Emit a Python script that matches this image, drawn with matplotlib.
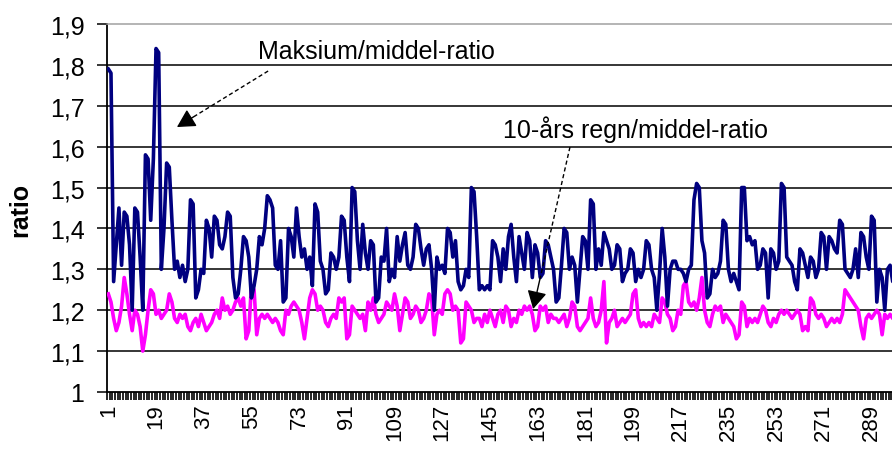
import matplotlib
matplotlib.use("Agg")
import matplotlib.pyplot as plt
import numpy as np
from matplotlib.ticker import FuncFormatter

# Maximum / mean ratio per station
max_ratio = [
    1.79, 1.78, 1.27, 1.36, 1.45, 1.31, 1.44, 1.43, 1.36, 1.20,
    1.45, 1.44, 1.33, 1.20, 1.58, 1.57, 1.42, 1.57, 1.84, 1.83,
    1.30, 1.40, 1.56, 1.55, 1.42, 1.30, 1.32, 1.28, 1.31, 1.27,
    1.30, 1.47, 1.46, 1.23, 1.25, 1.30, 1.29, 1.42, 1.40, 1.33,
    1.43, 1.42, 1.36, 1.35, 1.38, 1.44, 1.43, 1.28, 1.23, 1.24,
    1.30, 1.38, 1.37, 1.33, 1.23, 1.26, 1.30, 1.38, 1.36, 1.40,
    1.48, 1.47, 1.45, 1.31, 1.30, 1.37, 1.22, 1.23, 1.40, 1.38,
    1.33, 1.45, 1.38, 1.33, 1.35, 1.30, 1.33, 1.26, 1.46, 1.44,
    1.32, 1.30, 1.24, 1.25, 1.34, 1.33, 1.30, 1.33, 1.43, 1.42,
    1.33, 1.27, 1.50, 1.49, 1.37, 1.30, 1.41, 1.34, 1.30, 1.37,
    1.36, 1.22, 1.23, 1.33, 1.32, 1.40, 1.27, 1.30, 1.28, 1.38,
    1.32, 1.36, 1.39, 1.31, 1.30, 1.33, 1.41, 1.40, 1.35, 1.31,
    1.35, 1.36, 1.30, 1.20, 1.33, 1.30, 1.31, 1.29, 1.40, 1.39,
    1.33, 1.37, 1.27, 1.25, 1.26, 1.30, 1.28, 1.50, 1.49, 1.38,
    1.25, 1.26, 1.25, 1.26, 1.25, 1.37, 1.36, 1.33, 1.27, 1.35,
    1.30, 1.38, 1.41, 1.33, 1.27, 1.38, 1.34, 1.30, 1.39, 1.37,
    1.28, 1.36, 1.34, 1.28, 1.29, 1.37, 1.36, 1.33, 1.30, 1.22,
    1.23, 1.31, 1.40, 1.39, 1.30, 1.33, 1.31, 1.22, 1.30, 1.38,
    1.37, 1.30, 1.47, 1.46, 1.30, 1.35, 1.31, 1.39, 1.37, 1.35,
    1.30, 1.31, 1.36, 1.35, 1.27, 1.29, 1.30, 1.35, 1.34, 1.27,
    1.30, 1.28, 1.30, 1.37, 1.36, 1.30, 1.28, 1.20, 1.29, 1.40,
    1.33, 1.21, 1.30, 1.32, 1.32, 1.30, 1.30, 1.29, 1.27, 1.30,
    1.31, 1.47, 1.51, 1.50, 1.37, 1.34, 1.23, 1.24, 1.30, 1.28,
    1.29, 1.32, 1.42, 1.41, 1.30, 1.27, 1.29, 1.27, 1.25, 1.50,
    1.50, 1.37, 1.38, 1.36, 1.37, 1.30, 1.31, 1.35, 1.34, 1.23,
    1.35, 1.34, 1.30, 1.32, 1.51, 1.50, 1.33, 1.32, 1.31, 1.27,
    1.25, 1.35, 1.34, 1.31, 1.28, 1.33, 1.32, 1.28, 1.30, 1.39,
    1.38, 1.30, 1.38, 1.37, 1.35, 1.34, 1.42, 1.41, 1.30, 1.29,
    1.28, 1.30, 1.35, 1.28, 1.39, 1.38, 1.33, 1.30, 1.43, 1.42,
    1.22, 1.30, 1.28, 1.20, 1.30, 1.31, 1.27, 1.32, 1.29, 1.30,
]

# 10-year rainfall / mean ratio per station
ten_year_ratio = [
    1.24, 1.22, 1.18, 1.15, 1.17, 1.21, 1.28, 1.24, 1.19, 1.15,
    1.20, 1.19, 1.16, 1.10, 1.14, 1.20, 1.25, 1.24, 1.19, 1.20,
    1.18, 1.19, 1.20, 1.24, 1.22, 1.18, 1.17, 1.19, 1.18, 1.19,
    1.16, 1.15, 1.17, 1.18, 1.16, 1.19, 1.17, 1.15, 1.16, 1.17,
    1.19, 1.20, 1.18, 1.23, 1.20, 1.21, 1.19, 1.20, 1.22, 1.23,
    1.21, 1.23, 1.13, 1.15, 1.26, 1.25, 1.14, 1.18, 1.19, 1.18,
    1.19, 1.18, 1.17, 1.18, 1.17, 1.15, 1.14, 1.20, 1.19, 1.21,
    1.22, 1.21, 1.20, 1.17, 1.13, 1.18, 1.23, 1.25, 1.24, 1.20,
    1.21, 1.20, 1.17, 1.16, 1.18, 1.19, 1.18, 1.23, 1.22, 1.23,
    1.13, 1.14, 1.21, 1.20, 1.19, 1.18, 1.19, 1.15, 1.22, 1.20,
    1.23, 1.19, 1.17, 1.18, 1.19, 1.22, 1.21, 1.20, 1.24, 1.21,
    1.15, 1.19, 1.23, 1.22, 1.18, 1.19, 1.21, 1.20, 1.17, 1.18,
    1.20, 1.24, 1.23, 1.14, 1.19, 1.20, 1.19, 1.24, 1.25, 1.24,
    1.20, 1.21, 1.20, 1.12, 1.13, 1.22, 1.21, 1.20, 1.17, 1.18,
    1.18, 1.16, 1.19, 1.17, 1.20, 1.18, 1.16, 1.19, 1.20, 1.17,
    1.21, 1.20, 1.16, 1.18, 1.17, 1.20, 1.19, 1.21, 1.20, 1.21,
    1.19, 1.15, 1.16, 1.21, 1.20, 1.21, 1.17, 1.19, 1.18, 1.18,
    1.17, 1.18, 1.19, 1.16, 1.18, 1.22, 1.21, 1.16, 1.15, 1.16,
    1.17, 1.18, 1.23, 1.18, 1.16, 1.17, 1.20, 1.27, 1.12, 1.17,
    1.18, 1.20, 1.16, 1.17, 1.18, 1.17, 1.18, 1.19, 1.24, 1.25,
    1.18, 1.16, 1.17, 1.16, 1.17, 1.16, 1.19, 1.18, 1.17, 1.23,
    1.22, 1.19, 1.18, 1.15, 1.16, 1.20, 1.19, 1.26, 1.27, 1.22,
    1.21, 1.22, 1.20, 1.23, 1.28, 1.20, 1.17, 1.16, 1.19, 1.21,
    1.20, 1.21, 1.17, 1.19, 1.18, 1.17, 1.16, 1.13, 1.14, 1.22,
    1.21, 1.16, 1.18, 1.17, 1.18, 1.17, 1.19, 1.21, 1.20, 1.17,
    1.16, 1.18, 1.17, 1.19, 1.20, 1.19, 1.20, 1.19, 1.18, 1.19,
    1.20, 1.19, 1.15, 1.16, 1.15, 1.23, 1.22, 1.19, 1.18, 1.19,
    1.18, 1.16, 1.17, 1.18, 1.17, 1.18, 1.17, 1.19, 1.25, 1.24,
    1.23, 1.22, 1.21, 1.20, 1.16, 1.13, 1.18, 1.19, 1.18, 1.19,
    1.20, 1.19, 1.14, 1.19, 1.18, 1.19, 1.18, 1.20, 1.19, 1.18,
]

n = len(max_ratio)
stations = np.arange(1, n + 1)
label_stations = list(range(1, n + 1, 18))
y_ticks = [1.0, 1.1, 1.2, 1.3, 1.4, 1.5, 1.6, 1.7, 1.8, 1.9]

plt.rcParams["font.family"] = ["Liberation Sans", "DejaVu Sans"]

W, H = 892, 452
fig = plt.figure(figsize=(W / 100, H / 100), dpi=100)
px_per_cat = 2.65
ax = fig.add_axes([107 / W, 59 / H, n * px_per_cat / W, 368 / H])

ax.plot(stations, ten_year_ratio, color="#FF00FF", lw=2.6, zorder=3)
ax.plot(stations, max_ratio, color="#000080", lw=2.6, zorder=4)

ax.set_xlim(0.5, n + 0.5)
ax.set_ylim(1.0, 1.9)

# horizontal gridlines
for v in y_ticks[1:-1]:
    ax.axhline(v, color="black", lw=1.1, zorder=1)

ax.spines["right"].set_visible(False)
ax.spines["top"].set_color("#a0a0a0")
ax.spines["top"].set_linewidth(1.1)
ax.spines["left"].set_linewidth(1.3)
ax.spines["bottom"].set_linewidth(1.3)

def comma_fmt(v, pos):
    if abs(v - round(v)) < 1e-9:
        return str(int(round(v)))
    return f"{v:.1f}".replace(".", ",")

ax.set_yticks(y_ticks)
ax.yaxis.set_major_formatter(FuncFormatter(comma_fmt))
ax.tick_params(axis="y", length=7.2, width=1.1, pad=9, labelsize=18,
               colors="black")
ax.yaxis.get_major_ticks()[-1].tick1line.set_color("#a0a0a0")

ax.set_xticks(label_stations)
ax.set_xticklabels([str(s) for s in label_stations], rotation=90)
ax.set_xticks(np.arange(0.5, n + 1, 1.0), minor=True)
ax.tick_params(axis="x", which="major", length=0, pad=8, labelsize=16)
ax.tick_params(axis="x", which="minor", length=6, width=1.2,
               direction="out", color="black")

fig.text(20 / W, 1 - 210 / H, "ratio", rotation=90, ha="center",
         va="center", fontsize=18, fontweight="bold")

# annotations with dashed leader lines and solid arrow heads
def leader(tail, tip):
    tail = np.array(tail, dtype=float)
    tip = np.array(tip, dtype=float)
    near = tip + (tail - tip) * 0.2
    ax.plot([tail[0], near[0]], [tail[1], near[1]], color="black", lw=1.0,
            linestyle=(0, (3, 2)), zorder=6)
    ax.annotate("", xy=tip, xytext=near,
                arrowprops=dict(arrowstyle="-|>,head_length=1.1,head_width=0.6",
                                color="black", lw=1.0, shrinkA=0, shrinkB=0),
                zorder=7)

ax.text(57.5, 1.834, "Maksium/middel-ratio", fontsize=18, ha="left",
        va="center", zorder=6)
leader((61.3, 1.785), (26.9, 1.648))

ax.text(149.9, 1.643, "10-års regn/middel-ratio", fontsize=18, ha="left",
        va="center", zorder=6)
leader((175.2, 1.599), (161.3, 1.203))

fig.savefig("out.png", dpi=100)
